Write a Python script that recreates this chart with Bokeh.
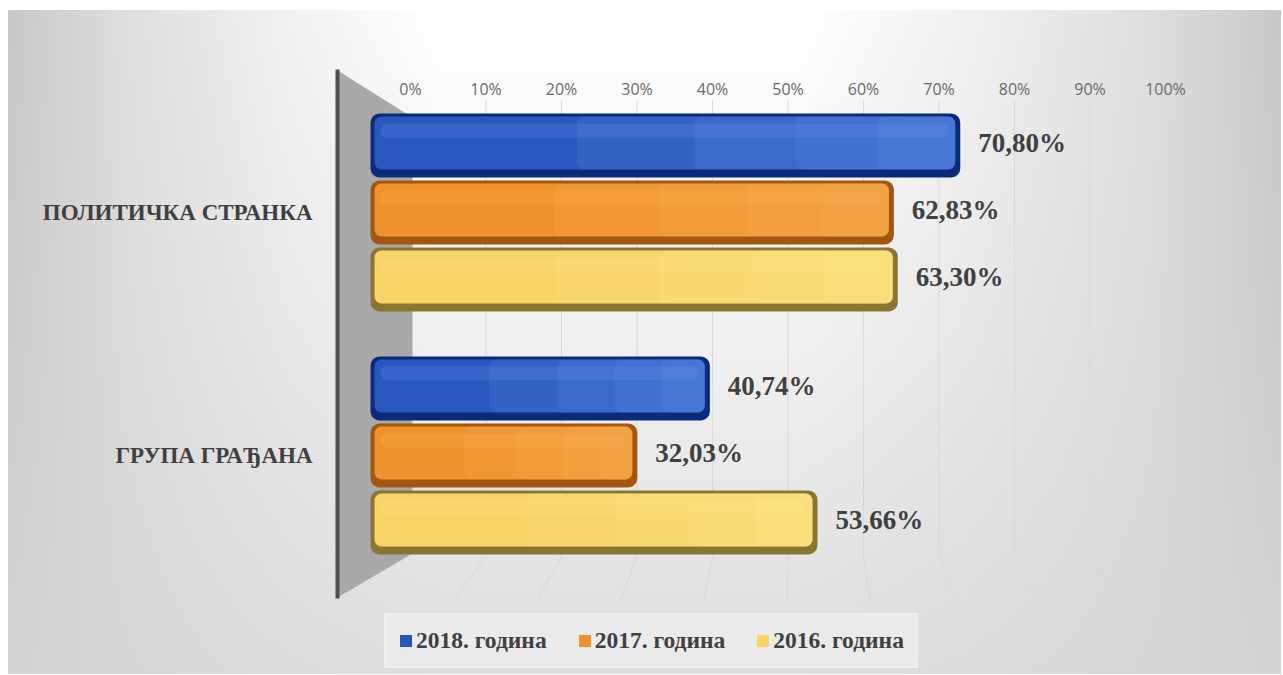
from bokeh.plotting import figure
from bokeh.models import (Range1d, LinearAxis, FixedTicker, ColumnDataSource, Legend,
                          LegendItem, PolyAnnotation)
from bokeh.core.properties import value
from bokeh.embed import file_html
from bokeh.resources import INLINE

# ---------------- data ----------------
categories = ["ПОЛИТИЧКА СТРАНКА", "ГРУПА ГРАЂАНА"]
series_names = ["2018. година", "2017. година", "2016. година"]
values_2018 = [70.80, 40.74]
values_2017 = [62.83, 32.03]
values_2016 = [63.30, 53.66]
x_tick_values = [0, 10, 20, 30, 40, 50, 60, 70, 80, 90, 100]
x_tick_labels = ["0%", "10%", "20%", "30%", "40%", "50%", "60%", "70%", "80%", "90%", "100%"]

series_values = [values_2018, values_2017, values_2016]

# ---------------- styles ----------------
edge_colors = ["#0a2a7a", "#a3560f", "#8a7634"]
body_colors = ["#2a57bd", "#f0922d", "#f9d466"]
light_colors = ["#6a9cf0", "#fbb55e", "#fde891"]
text_color = "#404040"
serif = "Liberation Serif"

# ---------------- layout (page pixels) ----------------
PAGE_X, PAGE_Y = 8, 10
FIG_W, FIG_H = 1273, 664
FRAME_L, FRAME_T = 334, 66
FRAME_R, FRAME_B = PAGE_X + FIG_W, PAGE_Y + FIG_H
BAR_ZERO_PX, BAR_PX_PER_PCT = 370, 8.33      # front plane (bars)
TICK_ZERO_PX, TICK_PX_PER_PCT = 410, 7.55    # back wall (axis)
TICK_LABEL_CY = 87
CAT0_PX, CAT_PITCH_PX = 212, 243
BAR_PITCH_PX, BAR_H_PX = 67, 64


def bx(px):
    return (px - BAR_ZERO_PX) / BAR_PX_PER_PCT


def tx(px):
    return (px - TICK_ZERO_PX) / TICK_PX_PER_PCT


def cy(py):
    return (py - CAT0_PX) / CAT_PITCH_PX


def dpx_x(d):
    return d / BAR_PX_PER_PCT


def dpx_y(d):
    return d / CAT_PITCH_PX


p = figure(width=FIG_W, height=FIG_H,
           x_range=Range1d(bx(FRAME_L), bx(FRAME_R)),
           y_range=Range1d(start=cy(FRAME_B), end=cy(FRAME_T)),
           output_backend="svg", toolbar_location=None,
           x_axis_location=None, y_axis_location="left",
           min_border_left=FRAME_L - PAGE_X, min_border_top=FRAME_T - PAGE_Y,
           min_border_right=0, min_border_bottom=0)
p.background_fill_color = None
p.border_fill_color = None
p.outline_line_color = None
p.grid.visible = False
p.styles = {
    "margin-left": f"{PAGE_X}px",
    "margin-top": f"{PAGE_Y}px",
    "background": (
        "linear-gradient(to bottom, rgba(214,214,214,0) 0%, rgba(214,214,214,0.35) 50%, "
        "rgba(214,214,214,0.8) 100%), "
        "linear-gradient(to right, #c8c8c8 0%, #dedede 9%, #f2f2f2 22%, #ffffff 34%, "
        "#ffffff 62%, #f2f2f2 75%, #dedede 90%, #c8c8c8 100%)"
    ),
}

p.extra_x_ranges = {"tick": Range1d(tx(FRAME_L), tx(FRAME_R))}

# faint perspective grid (back wall verticals + floor lines)
back_y, front_y = cy(556), cy(600)
g_ticks = x_tick_values[1:]
p.segment(x0=g_ticks, x1=g_ticks, y0=[cy(100)] * len(g_ticks), y1=[back_y] * len(g_ticks),
          x_range_name="tick", line_color="#d9d9d9", line_width=1, level="underlay")
p.segment(x0=g_ticks, y0=[back_y] * len(g_ticks),
          x1=[tx(BAR_ZERO_PX + v * BAR_PX_PER_PCT) for v in g_ticks], y1=[front_y] * len(g_ticks),
          x_range_name="tick", line_color="#d9d9d9", line_width=1, level="underlay")

# left wall
p.add_layout(PolyAnnotation(xs=[bx(337), bx(412), bx(412), bx(337)],
                            ys=[cy(70), cy(117), cy(553), cy(597)],
                            fill_color="#a9a9a9", fill_alpha=1, line_color=None, level="underlay"))
p.add_layout(PolyAnnotation(xs=[bx(335), bx(339), bx(339), bx(335)],
                            ys=[cy(69), cy(69), cy(598), cy(598)],
                            fill_color="#4f4f4f", fill_alpha=1, line_color=None, level="underlay"))

legend_items = []
for k, (name, vals) in enumerate(zip(series_names, series_values)):
    off = (k - 1) * BAR_PITCH_PX / CAT_PITCH_PX
    ys = [i + off for i in range(len(categories))]
    data = dict(
        y=ys,
        right=vals,
        body_y=[y - dpx_y(2.5) for y in ys],
        body_left=[dpx_x(4)] * len(vals),
        body_right=[v - dpx_x(5) for v in vals],
        hi_y=[y - dpx_y(15) for y in ys],
        hi_left=[dpx_x(10)] * len(vals),
        hi_right=[v - dpx_x(12) for v in vals],
        label=[f"{v:.2f}".replace(".", ",") + "%" for v in vals],
    )
    for j, frac in enumerate((0.35, 0.55, 0.72, 0.86)):
        data[f"glow{j}"] = [v * frac for v in vals]
    src = ColumnDataSource(data)
    p.hbar(y="y", left=0, right="right", height=dpx_y(BAR_H_PX), source=src,
           fill_color=edge_colors[k], line_color=None, border_radius=9)
    body = p.hbar(y="body_y", left="body_left", right="body_right", height=dpx_y(53), source=src,
                  fill_color=body_colors[k], line_color=None, border_radius=7)
    # gradual brightening toward the right end
    for j in range(4):
        p.hbar(y="body_y", left=f"glow{j}", right="body_right", height=dpx_y(53), source=src,
               fill_color=light_colors[k], fill_alpha=0.15, line_color=None, border_radius=7)
    p.hbar(y="hi_y", left="hi_left", right="hi_right", height=dpx_y(14), source=src,
           fill_color=light_colors[k], fill_alpha=0.22, line_color=None, border_radius=6)
    p.text(x="right", y="y", text="label", source=src, x_offset=18, y_offset=-3,
           text_baseline="middle", text_align="left",
           text_font=value(serif), text_font_style="bold", text_font_size="27px",
           text_color=text_color)
    legend_items.append(LegendItem(label=name, renderers=[body]))

# top axis (back wall scale), labels sit just below the frame top like the original
top_axis = LinearAxis(x_range_name="tick", ticker=FixedTicker(ticks=x_tick_values),
                      major_label_overrides=dict(zip(x_tick_values, x_tick_labels)))
top_axis.axis_line_color = None
top_axis.major_tick_line_color = None
top_axis.minor_tick_line_color = None
top_axis.major_tick_out = 0
top_axis.major_tick_in = 0
top_axis.major_label_standoff = FRAME_T - TICK_LABEL_CY - 12
top_axis.major_label_text_font = "Open Sans"
top_axis.major_label_text_font_size = "16px"
top_axis.major_label_text_color = "#6a6a6a"
p.add_layout(top_axis, "above")

# category axis
ya = p.yaxis[0]
ya.ticker = FixedTicker(ticks=list(range(len(categories))))
ya.major_label_overrides = {i: c for i, c in enumerate(categories)}
ya.axis_line_color = None
ya.major_tick_line_color = None
ya.minor_tick_line_color = None
ya.major_label_standoff = 16
ya.major_label_text_font = serif
ya.major_label_text_font_style = "bold"
ya.major_label_text_font_size = "23px"
ya.major_label_text_color = text_color

legend = Legend(items=legend_items, orientation="horizontal", location=(384 - FRAME_L, 6),
                glyph_width=15, glyph_height=15, label_standoff=3, spacing=30, padding=12,
                margin=0, label_text_font=serif, label_text_font_style="bold",
                label_text_font_size="23.5px", label_text_color=text_color,
                background_fill_color="#ebebeb", background_fill_alpha=1,
                border_line_color="#f6f6f6", border_line_width=2)
p.add_layout(legend)

open("out.html", "w").write(file_html(p, INLINE))
